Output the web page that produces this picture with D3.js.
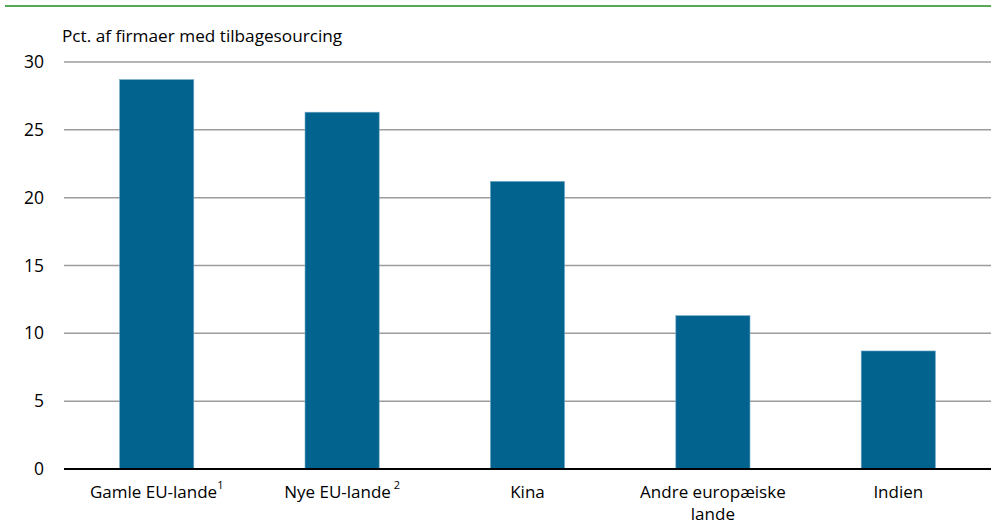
<!DOCTYPE html>
<html>
<head>
<meta charset="utf-8">
<script src="https://cdn.jsdelivr.net/npm/d3@7"></script>
<style>
  body { margin: 0; background: #fff; }
  text { font-family: "Open Sans", "Noto Sans", sans-serif; fill: #000; }
</style>
</head>
<body>
<svg id="chart"></svg>
<script>
// data
const categories = ['Gamle EU-lande', 'Nye EU-lande', 'Kina', 'Andre europæiske lande', 'Indien'];
const footnotes = ['1', ' 2', '', '', ''];
const values = [28.7, 26.3, 21.2, 11.3, 8.7];
const yTicks = [0, 5, 10, 15, 20, 25, 30];
const yTitle = 'Pct. af firmaer med tilbagesourcing';

const width = 991, height = 526;
const margin = { top: 62, right: 0, bottom: 57, left: 64 };
const innerH = height - margin.top - margin.bottom;

const svg = d3.select('#chart')
    .attr('width', width)
    .attr('height', height);

// green rule on top
svg.append('line')
    .attr('x1', 5).attr('x2', width)
    .attr('y1', 6).attr('y2', 6)
    .attr('stroke', '#1e8a1e')
    .attr('stroke-width', 1.5);

const x = d3.scaleBand()
    .domain(categories)
    .range([margin.left, width - margin.right])
    .paddingInner(0.6)
    .paddingOuter(0.3);

const y = d3.scaleLinear()
    .domain([0, 30])
    .range([margin.top + innerH, margin.top]);

// gridlines
svg.append('g')
    .selectAll('line')
    .data(yTicks.filter(d => d > 0))
    .enter()
    .append('line')
    .attr('x1', margin.left)
    .attr('x2', width)
    .attr('y1', d => y(d))
    .attr('y2', d => y(d))
    .attr('stroke', '#9c9c9c')
    .attr('stroke-width', 1.5);

// y tick labels
svg.append('g')
    .selectAll('text')
    .data(yTicks)
    .enter()
    .append('text')
    .attr('x', 44)
    .attr('y', d => y(d))
    .attr('dy', '0.35em')
    .attr('text-anchor', 'end')
    .style('font-size', '17.5px')
    .text(d => d);

svg.append('text')
    .attr('x', 62)
    .attr('y', 42)
    .style('font-size', '17.2px')
    .text(yTitle);

// bars
svg.append('g')
    .selectAll('rect')
    .data(values)
    .enter()
    .append('rect')
    .attr('x', (d, i) => x(categories[i]))
    .attr('y', d => y(d))
    .attr('width', x.bandwidth())
    .attr('height', d => y(0) - y(d))
    .attr('fill', '#03638f')
    .attr('stroke', '#6fa8c8')
    .attr('stroke-width', 0.6);

// x axis line
svg.append('line')
    .attr('x1', margin.left).attr('x2', width)
    .attr('y1', y(0)).attr('y2', y(0))
    .attr('stroke', '#000')
    .attr('stroke-width', 2);

// category labels, wrap long ones
const labels = svg.append('g')
    .selectAll('text')
    .data(categories)
    .enter()
    .append('text')
    .attr('text-anchor', 'middle')
    .attr('x', d => x(d) + x.bandwidth() / 2)
    .attr('y', 498)
    .style('font-size', '17px');

labels.each(function (d, i) {
    let t = d3.select(this);
    if (d === 'Andre europæiske lande') {
        t.append('tspan').attr('x', x(d) + x.bandwidth() / 2).text('Andre europæiske');
        t.append('tspan').attr('x', x(d) + x.bandwidth() / 2).attr('dy', 22).text('lande');
    } else {
        t.append('tspan').text(d);
        if (footnotes[i]) {
            t.append('tspan')
                .attr('dy', -9)
                .style('font-size', '11px')
                .text(footnotes[i]);
        }
    }
});
</script>
</body>
</html>
